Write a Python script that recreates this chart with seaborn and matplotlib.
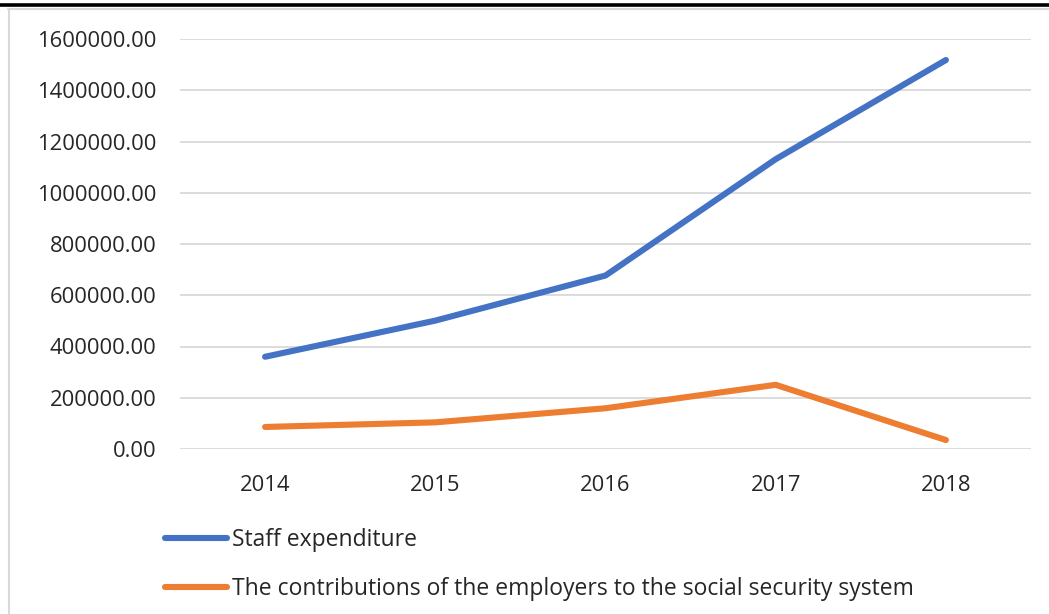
import matplotlib
matplotlib.use("Agg")
import matplotlib.pyplot as plt
import seaborn as sns
import pandas as pd
from matplotlib.lines import Line2D
from matplotlib.ticker import FuncFormatter

years = ["2014", "2015", "2016", "2017", "2018"]
staff_expenditure = [360000, 501000, 677000, 1131000, 1518000]
employer_contributions = [86000, 104000, 159000, 250500, 35000]
series_names = ["Staff expenditure",
                "The contributions of the employers to the social security system"]
y_ticks = [0, 200000, 400000, 600000, 800000, 1000000, 1200000, 1400000, 1600000]

df = pd.DataFrame({
    "year": years * 2,
    "value": staff_expenditure + employer_contributions,
    "series": [series_names[0]] * len(years) + [series_names[1]] * len(years),
})

sns.set_theme(style="white")
plt.rcParams["font.family"] = ["Open Sans", "DejaVu Sans"]

fig = plt.figure(figsize=(10.49, 6.14), dpi=100)
ax = fig.add_axes([180/1049, 1-449/614, (1031-180)/1049, (449-39)/614])

palette = {series_names[0]: "#4472C4", series_names[1]: "#ED7D31"}
sns.lineplot(data=df, x="year", y="value", hue="series", palette=palette,
             linewidth=4.4, ax=ax, legend=False, sort=False,
             solid_capstyle="round")

ax.set_xlim(-0.5, 4.5)
ax.set_ylim(0, 1600000)
ax.set_yticks(y_ticks)
ax.yaxis.set_major_formatter(FuncFormatter(lambda v, p: f"{v:.2f}"))
ax.grid(axis="y", color="#d9d9d9", linewidth=1.3)
ax.grid(axis="x", visible=False)
for s in ax.spines.values():
    s.set_visible(False)
ax.tick_params(axis="both", length=0, labelsize=15.8, colors="#262626")
ax.tick_params(axis="y", pad=17)
ax.tick_params(axis="x", pad=19)
ax.set_xlabel("")
ax.set_ylabel("")

handles = [Line2D([0], [0], color=palette[n], linewidth=4.4, solid_capstyle="round")
           for n in series_names]
fig.legend(handles, series_names, loc="upper left",
           bbox_to_anchor=(144/1049, 1-507/614), frameon=False,
           fontsize=16.5, handlelength=2.7, handletextpad=0.25,
           labelspacing=1.1, labelcolor="#262626")

# page decorations: border lines
fig.add_artist(Line2D([0, 1], [1-4.5/614, 1-4.5/614], color="black", linewidth=2.6,
                      transform=fig.transFigure))
fig.add_artist(Line2D([8/1049, 1], [1-9/614, 1-9/614], color="#d9d9d9", linewidth=1.5,
                      transform=fig.transFigure))
fig.add_artist(Line2D([9/1049, 9/1049], [0, 1-9/614], color="#d9d9d9", linewidth=1.5,
                      transform=fig.transFigure))

fig.savefig("out.png", dpi=100)
